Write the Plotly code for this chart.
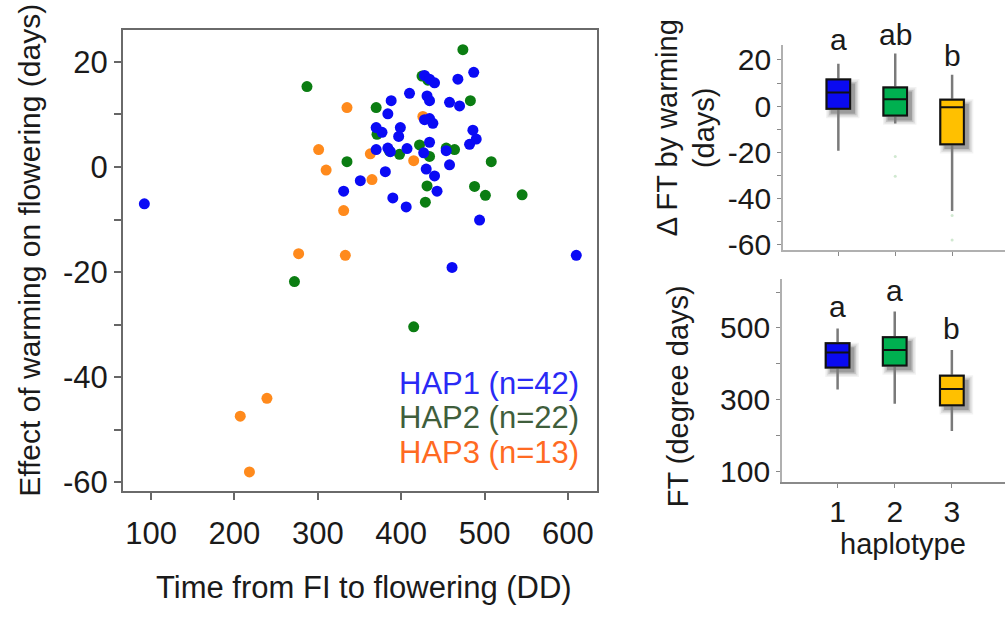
import plotly.graph_objects as go

# ---- scatter: effect of warming vs time from FI to flowering ----
hap1_x = [92, 610, 461, 494, 487, 428, 434, 440, 468, 410, 388, 431, 434, 458,
          470, 384, 434, 438, 370, 377, 399, 397, 486, 490, 482, 434, 384, 387,
          370, 407, 427, 454, 458, 430, 440, 381, 351, 331, 443, 390, 406, 428]
hap1_y = [-7.0, -16.8, -19.1, -10.1, 18.0, 17.4, 16.7, 16.0, 16.7, 14.0, 12.6,
          13.5, 12.6, 12.3, 11.6, 10.1, 9.2, 8.3, 7.5, 6.6, 7.5, 5.8, 7.0, 5.3,
          4.3, 4.7, 3.6, 2.9, 3.3, 3.5, 2.7, 3.1, 0.4, -0.4, -1.7, -0.9, -2.6,
          -4.6, -4.6, -5.9, -7.6, 9.0]

hap2_x = [474, 287, 425, 370, 483, 371, 335, 422, 398, 434, 464, 454, 508, 431,
          488, 501, 545, 429, 272, 415, 386, 432]
hap2_y = [22.3, 15.3, 17.3, 11.3, 12.6, 6.2, 1.0, 4.2, 2.4, 2.0, 3.3, 3.6, 1.0,
          -3.6, -3.7, -5.4, -5.3, -6.7, -21.8, -30.4, 3.0, 16.5]

hap3_x = [335, 301, 310, 363, 415, 365, 331, 277, 333, 426, 239, 207, 218]
hap3_y = [11.3, 3.3, -0.6, 2.5, 1.2, -2.4, -8.3, -16.5, -16.8, 9.6, -44.0, -47.4, -58.0]

legend_labels = ["HAP1 (n=42)", "HAP2 (n=22)", "HAP3 (n=13)"]

# ---- box summaries by haplotype ----
haplotypes = [1, 2, 3]
tick_labels_hap = ["1", "2", "3"]

# Delta FT by warming (days)
dft_low = [-19.4, -7.6, -45.5]
dft_q1 = [-1.2, -4.1, -16.5]
dft_med = [5.9, 3.0, -0.5]
dft_q3 = [11.5, 8.0, 2.7]
dft_high = [18.3, 22.8, 13.6]
dft_out_x = [2, 2, 3, 3]
dft_out_y = [-21.8, -30.4, -47.4, -58.0]
dft_letters = ["a", "ab", "b"]

# FT (degree days)
ft_low = [328, 288, 212]
ft_q1 = [389, 395, 284]
ft_med = [431, 438, 329]
ft_q3 = [457, 474, 366]
ft_high = [498, 546, 438]
ft_letters = ["a", "a", "b"]

point_colors = ["#0a0af5", "#0b7d12", "#ff8a1c"]
legend_colors = ["#2a2af5", "#3f5e3c", "#ff6a22"]
box_colors = ["#0a0af0", "#00b050", "#ffc000"]

FONT = "Liberation Sans, Arial, sans-serif"
TXT = "#1a1a1a"

fig = go.Figure()

for xs, ys, c in [(hap2_x, hap2_y, point_colors[1]),
                  (hap3_x, hap3_y, point_colors[2]),
                  (hap1_x, hap1_y, point_colors[0])]:
    fig.add_trace(go.Scatter(x=xs, y=ys, mode="markers",
                             marker=dict(size=11, color=c, line=dict(width=0)),
                             xaxis="x", yaxis="y", showlegend=False))

BOX_W = 0.413
shapes = []


def add_boxes(xa, ya, low, q1, med, q3, high, px_per_y):
    px_per_x = 56.9
    for i, h in enumerate(haplotypes):
        # soft drop shadow behind each box
        for grow, alpha in [(5.0, 0.05), (3.5, 0.08), (2.0, 0.12), (0.5, 0.2)]:
            dx, dy = 4.5, 4.5
            shapes.append(dict(
                type="rect", xref=xa, yref=ya, layer="below",
                x0=h - BOX_W / 2 + (dx - grow) / px_per_x,
                x1=h + BOX_W / 2 + (dx + grow) / px_per_x,
                y0=q1[i] - (dy + grow) / px_per_y,
                y1=q3[i] - (dy - grow) / px_per_y,
                fillcolor=f"rgba(0,0,0,{alpha})", line=dict(width=0)))
        # whiskers
        fig.add_trace(go.Box(x=[h], q1=[q1[i]], median=[med[i]], q3=[q3[i]],
                             lowerfence=[low[i]], upperfence=[high[i]],
                             width=BOX_W, whiskerwidth=0, boxpoints=False,
                             fillcolor="rgba(0,0,0,0)",
                             line=dict(color="#7a7a7a", width=2.5),
                             xaxis=xa, yaxis=ya, showlegend=False))
        # box body
        fig.add_trace(go.Box(x=[h], q1=[q1[i]], median=[med[i]], q3=[q3[i]],
                             lowerfence=[q1[i]], upperfence=[q3[i]],
                             width=BOX_W, whiskerwidth=0, boxpoints=False,
                             fillcolor=box_colors[i],
                             line=dict(color="#111111", width=2),
                             xaxis=xa, yaxis=ya, showlegend=False))


add_boxes("x2", "y2", dft_low, dft_q1, dft_med, dft_q3, dft_high, 2.354)
add_boxes("x3", "y3", ft_low, ft_q1, ft_med, ft_q3, ft_high, 0.365)

fig.add_trace(go.Scatter(x=dft_out_x, y=dft_out_y, mode="markers",
                         marker=dict(size=3, color="rgba(120,190,120,0.35)"),
                         xaxis="x2", yaxis="y2", showlegend=False))


def label(text, x, y, size, color=TXT, angle=0, xref="paper", yref="paper"):
    return dict(text=text, x=x, y=y, xref=xref, yref=yref, textangle=angle,
                xanchor="center", yanchor="middle", showarrow=False,
                font=dict(family=FONT, size=size, color=color))


annotations = []
for lab, yv, c in zip(legend_labels, [0.372, 0.316, 0.259], legend_colors):
    a = label(lab, 0.578, yv, 31, c)
    a["xanchor"] = "right"
    annotations.append(a)

# significance letters above each haplotype box
for h, lab, yv in zip(haplotypes, dft_letters, [0.9375, 0.9455, 0.911]):
    annotations.append(label(lab, h, yv, 30, xref="x2"))
for h, lab, yv in zip(haplotypes, ft_letters, [0.498, 0.525, 0.463]):
    annotations.append(label(lab, h, yv, 30, xref="x3"))

annotations += [
    label("Effect of warming on flowering (days)", 0.030, 0.590, 30, angle=-90),
    label("Time from FI to flowering (DD)", 0.362, 0.037, 31),
    label("\u0394 FT by warming<br>(days)", 0.6826, 0.791, 29, angle=-90),
    label("FT (degree days)", 0.6746, 0.351, 29, angle=-90),
    label("haplotype", 0.8985, 0.109, 29),
]

main_y_ticks = list(range(-60, 21, 10))
main_y_text = [str(v) if v % 20 == 0 else "" for v in main_y_ticks]
main_x_ticks = [100, 200, 300, 400, 500, 600]

dft_ticks = list(range(-60, 21, 10))
dft_text = [str(v) if v % 20 == 0 else "" for v in dft_ticks]
ft_ticks = [100, 200, 300, 400, 500, 600]
ft_text = ["100", "", "300", "", "500", ""]

tickfont = dict(family=FONT, size=31, color=TXT)
panel_font = dict(family=FONT, size=30, color=TXT)

fig.update_layout(
    width=1005, height=621,
    margin=dict(l=0, r=0, t=0, b=0),
    paper_bgcolor="white", plot_bgcolor="white",
    boxmode="overlay",
    showlegend=False,
    font=dict(family=FONT, color=TXT),
    xaxis=dict(domain=[0.1224, 0.594], range=[66.4, 634.8],
               tickvals=main_x_ticks, ticks="outside", ticklen=7, tickwidth=1.5,
               tickcolor="#666", showline=True, linecolor="#6a6a6a", linewidth=2,
               mirror=True, showgrid=False, zeroline=False, tickfont=tickfont,
               ticklabelstandoff=6),
    yaxis=dict(domain=[0.1948, 0.9528], range=[-61.7, 26.1],
               tickvals=main_y_ticks, ticktext=main_y_text, ticks="outside",
               ticklen=7, tickwidth=1.5, tickcolor="#666", showline=True,
               linecolor="#6a6a6a", linewidth=2, mirror=True, showgrid=False,
               zeroline=False, tickfont=tickfont),
    xaxis2=dict(domain=[0.779, 1.0], range=[0.025, 3.93], anchor="y2",
                tickvals=haplotypes, showticklabels=False, ticks="outside",
                ticklen=4, tickcolor="#888", showline=True, linecolor="#b0b0b0",
                linewidth=1.5, showgrid=False, zeroline=False),
    yaxis2=dict(domain=[0.591, 0.9275], range=[-62.4, 26.4], anchor="x2",
                tickvals=dft_ticks, ticktext=dft_text, ticks="outside",
                ticklen=4, tickcolor="#888", showline=True, linecolor="#b0b0b0",
                linewidth=1.5, showgrid=False, zeroline=False, tickfont=panel_font),
    xaxis3=dict(domain=[0.778, 1.0], range=[0.025, 3.93], anchor="y3",
                tickvals=haplotypes, ticktext=tick_labels_hap, ticks="outside",
                ticklen=4, tickcolor="#888", showline=True, linecolor="#8a8a8a",
                linewidth=1.5, showgrid=False, zeroline=False, tickfont=panel_font,
                ticklabelstandoff=-2),
    yaxis3=dict(domain=[0.2098, 0.5443], range=[68.8, 637.8], anchor="x3",
                tickvals=ft_ticks, ticktext=ft_text, ticks="outside",
                ticklen=4, tickcolor="#888", showline=True, linecolor="#b0b0b0",
                linewidth=1.5, showgrid=False, zeroline=False, tickfont=panel_font),
    shapes=shapes,
    annotations=annotations,
)

fig.write_html("out.html")
